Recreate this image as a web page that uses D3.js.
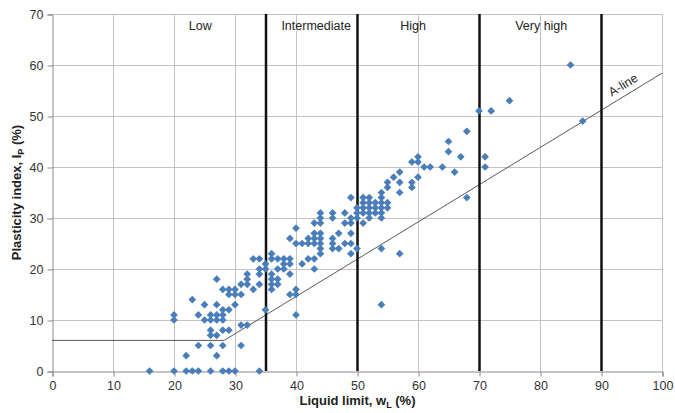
<!DOCTYPE html>
<html>
<head>
<meta charset="utf-8">
<script src="https://cdn.jsdelivr.net/npm/d3@7"></script>
<style>
  body { margin: 0; background: #fff; }
  svg { display: block; font-family: "Liberation Sans", Arial, sans-serif; }
</style>
</head>
<body>
<svg id="chart" width="675" height="413"></svg>
<script>
// Liquid limit (wL) and plasticity index (Ip)
const liquidLimit = [
  16, 20, 22, 23, 24, 26, 28, 29, 30, 34,
  22, 27,
  24, 26, 28, 31,
  26, 27,
  26, 28, 29,
  31, 32,
  20, 25, 26, 27, 28,
  20, 24, 26, 27, 28,
  28, 29, 35,
  25, 27, 30,
  23, 40, 54,
  29, 30, 31, 39, 40,
  28, 29, 30, 33, 36, 40,
  31, 32, 34, 36, 37,
  27, 32, 36, 37,
  32, 34, 36, 39,
  34, 35, 37, 38, 43,
  35, 38, 39, 41,
  33, 34, 36, 37, 38, 39, 42, 43,
  36, 44, 49, 57,
  44, 46, 47, 50, 54,
  40, 41, 42, 43, 44, 46, 48, 49,
  39, 42, 43, 44, 46,
  43, 44, 47, 49,
  40,
  43, 44, 48, 49, 51,
  44, 46, 49, 50, 52, 54,
  44, 46, 48, 50, 51, 52, 53, 54,
  50, 51, 52, 53, 54, 55,
  51, 52, 53, 54, 55,
  49, 51, 52, 54, 68,
  54, 57,
  55, 59,
  55, 57, 59,
  56, 60,
  57, 66,
  61, 62, 64, 71,
  59, 60,
  60, 67, 71,
  65, 65, 68, 87, 70, 72, 75, 85
];
const plasticityIndex = [
  0, 0, 0, 0, 0, 0, 0, 0, 0, 0,
  3, 3,
  5, 5, 5, 5,
  7, 7,
  8, 8, 8,
  9, 9,
  10, 10, 10, 10, 10,
  11, 11, 11, 11, 11,
  12, 12, 12,
  13, 13, 13,
  14, 11, 13,
  15, 15, 15, 15, 15,
  16, 16, 16, 16, 16, 16,
  17, 17, 17, 17, 17,
  18, 18, 18, 18,
  19, 19, 19, 19,
  20, 20, 20, 20, 20,
  21, 21, 21, 21,
  22, 22, 22, 22, 22, 22, 22, 22,
  23, 23, 23, 23,
  24, 24, 24, 24, 24,
  25, 25, 25, 25, 25, 25, 25, 25,
  26, 26, 26, 26, 26,
  27, 27, 27, 27,
  28,
  29, 29, 29, 29, 29,
  30, 30, 30, 30, 30, 30,
  31, 31, 31, 31, 31, 31, 31, 31,
  32, 32, 32, 32, 32, 32,
  33, 33, 33, 33, 33,
  34, 34, 34, 34, 34,
  35, 35,
  36, 36,
  37, 37, 37,
  38, 38,
  39, 39,
  40, 40, 40, 40,
  41, 41,
  42, 42, 42,
  43, 45, 47, 49, 51, 51, 53, 60
];

// Zone boundaries and labels
const zoneBounds = [35, 50, 70, 90];
const zoneLabels = ["Low", "Intermediate", "High", "Very high"];
const zoneLabelX = [24.3, 43.3, 59.2, 80.2];

const xTicks = d3.range(0, 101, 10);
const yTicks = d3.range(0, 71, 10);

// A-line: Ip = 0.73 (wL - 20), flat at Ip = 6 below that
const aLine = [[0, 6], [20 + 6 / 0.73, 6], [100, 0.73 * 80]];

const svg = d3.select("#chart");
const width = +svg.attr("width");
const height = +svg.attr("height");
const margin = { top: 14, right: 13, bottom: 42, left: 52 };
const innerWidth = width - margin.left - margin.right;
const innerHeight = height - margin.top - margin.bottom;

const x = d3.scaleLinear().domain([0, 100]).range([0, innerWidth]);
const y = d3.scaleLinear().domain([0, 70]).range([innerHeight, 0]);

const g = svg.append("g")
  .attr("transform", `translate(${margin.left},${margin.top})`);

// Grid
g.append("g")
  .selectAll("line")
  .data(xTicks.filter(d => d > 0))
  .join("line")
  .attr("x1", d => x(d) + 0.5).attr("x2", d => x(d) + 0.5)
  .attr("y1", 0).attr("y2", innerHeight)
  .attr("stroke", "#c3c3c3");

g.append("g")
  .selectAll("line")
  .data(yTicks.filter(d => d > 0))
  .join("line")
  .attr("x1", 0).attr("x2", innerWidth)
  .attr("y1", d => y(d) + 0.5).attr("y2", d => y(d) + 0.5)
  .attr("stroke", "#c3c3c3");

// Axes
const axisX = g.append("g")
  .attr("transform", `translate(0.5,${innerHeight + 0.5})`)
  .attr("font-size", 12.5)
  .attr("font-family", "'Liberation Sans', Arial, sans-serif")
  .call(d3.axisBottom(x).tickValues(xTicks).tickSize(5).tickPadding(5));
const axisY = g.append("g")
  .attr("transform", `translate(0.5,0.5)`)
  .call(d3.axisLeft(y).tickValues(yTicks).tickSize(5).tickPadding(4));

for (const a of [axisX, axisY]) {
  a.attr("font-size", 12.5)
    .attr("font-family", "'Liberation Sans', Arial, sans-serif");
  a.select(".domain").attr("stroke", "#8a8a8a");
  a.selectAll(".tick line").attr("stroke", "#8a8a8a");
  a.selectAll(".tick text").attr("fill", "#333");
}

// A-line
g.append("path")
  .datum(aLine)
  .attr("fill", "none")
  .attr("stroke", "#5a5a5a")
  .attr("stroke-width", 1)
  .attr("d", d3.line().x(d => x(d[0])).y(d => y(d[1])));

const angle = Math.atan2(y(aLine[1][1]) - y(aLine[2][1]), x(aLine[2][0]) - x(aLine[1][0])) * 180 / Math.PI;
g.append("text")
  .attr("transform", `translate(${x(94.5)},${y(0.73 * 74.5)}) rotate(${-angle})`)
  .attr("text-anchor", "middle")
  .attr("dy", -6)
  .attr("fill", "#222")
  .style("font-size", "12.5px")
  .text("A-line");

// Zone boundaries
g.append("g")
  .selectAll("line")
  .data(zoneBounds)
  .join("line")
  .attr("x1", d => x(d) + 0.5).attr("x2", d => x(d) + 0.5)
  .attr("y1", 0).attr("y2", innerHeight)
  .attr("stroke", "#111")
  .attr("stroke-width", 2.5);

g.append("g")
  .selectAll("text")
  .data(zoneLabels)
  .join("text")
  .attr("x", (d, i) => x(zoneLabelX[i]))
  .attr("y", 16)
  .attr("text-anchor", "middle")
  .attr("fill", "#222")
  .style("font-size", "12.5px")
  .text(d => d);

// Points
const points = liquidLimit.map((wl, i) => ({ wl, ip: plasticityIndex[i] }));
g.append("g")
  .selectAll("path")
  .data(points)
  .join("path")
  .attr("transform", d => `translate(${x(d.wl)},${y(d.ip)}) rotate(45)`)
  .attr("d", d3.symbol(d3.symbolSquare, 30))
  .attr("fill", "#4a7ebb");

// Axis titles
const xTitle = svg.append("text")
  .attr("x", margin.left + innerWidth / 2 + 0.5)
  .attr("y", 405)
  .attr("text-anchor", "middle")
  .attr("fill", "#222")
  .style("font-size", "13px")
  .style("font-weight", "bold");
xTitle.append("tspan").text("Liquid limit, w");
xTitle.append("tspan").attr("dy", 3).style("font-size", "9px").text("L");
xTitle.append("tspan").attr("dy", -3).text(" (%)");

const yTitle = svg.append("text")
  .attr("transform", `translate(21,${margin.top + innerHeight / 2}) rotate(-90)`)
  .attr("text-anchor", "middle")
  .attr("fill", "#222")
  .style("font-size", "13px")
  .style("font-weight", "bold");
yTitle.append("tspan").text("Plasticity index, I");
yTitle.append("tspan").attr("dy", 3).style("font-size", "9px").text("P");
yTitle.append("tspan").attr("dy", -3).text(" (%)");
</script>
</body>
</html>
